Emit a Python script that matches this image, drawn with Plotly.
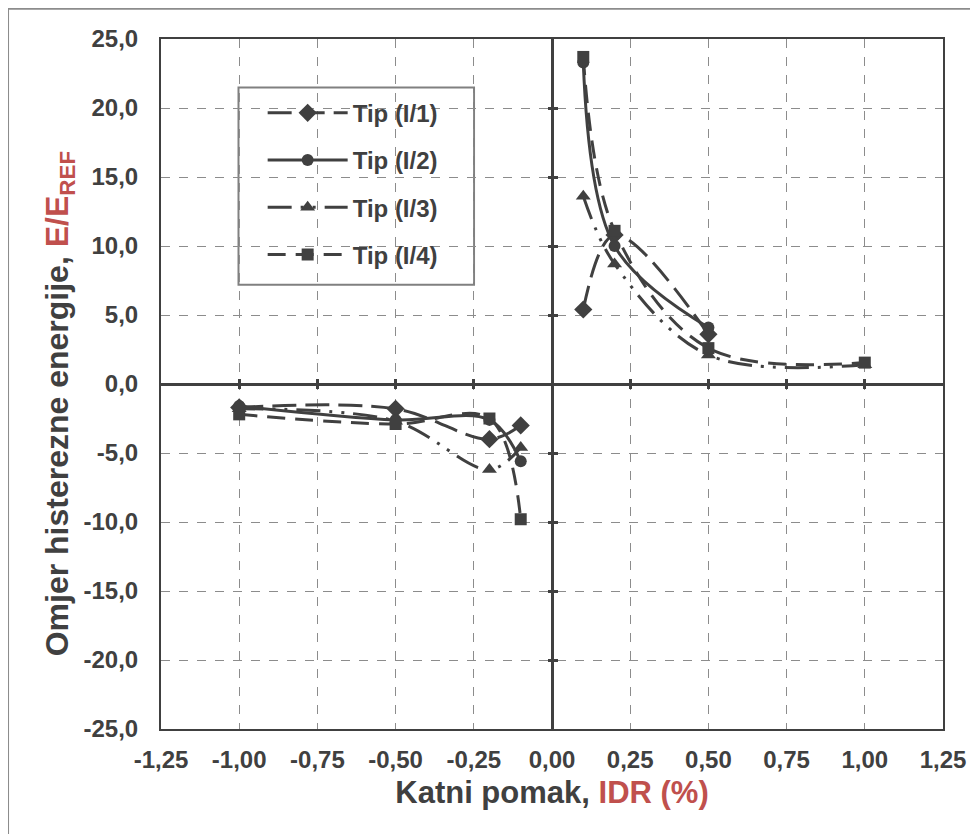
import plotly.graph_objects as go

# storey drift (IDR %) for the two branches
x_pos = [0.1, 0.2, 0.5, 1.0]
x_neg = [-1.0, -0.5, -0.2, -0.1]

# hysteretic energy ratio E/E_REF per type
tip1_pos = [5.4, 10.8, 3.6]
tip1_neg = [-1.7, -1.8, -4.0, -3.0]
tip2_pos = [23.3, 10.0, 4.1]
tip2_neg = [-1.6, -2.6, -2.6, -5.6]
tip3_pos = [13.6, 8.7, 2.1, 1.4]
tip3_neg = [-1.8, -2.7, -6.2, -4.6]
tip4_pos = [23.7, 11.1, 2.6, 1.55]
tip4_neg = [-2.2, -2.9, -2.5, -9.8]

names = ['Tip (I/1)', 'Tip (I/2)', 'Tip (I/3)', 'Tip (I/4)']

x_ticks = [-1.25, -1.0, -0.75, -0.5, -0.25, 0.0, 0.25, 0.5, 0.75, 1.0, 1.25]
x_tick_labels = ['-1,25', '-1,00', '-0,75', '-0,50', '-0,25', '0,00', '0,25', '0,50', '0,75', '1,00', '1,25']
y_ticks = [-25, -20, -15, -10, -5, 0, 5, 10, 15, 20, 25]
y_tick_labels = ['-25,0', '-20,0', '-15,0', '-10,0', '-5,0', '0,0', '5,0', '10,0', '15,0', '20,0', '25,0']

dark = '#404040'
red = '#c0504d'
font = 'Liberation Sans'

series = [
    (names[0], tip1_pos, tip1_neg, 'diamond', 14, '24px,9px'),
    (names[1], tip2_pos, tip2_neg, 'circle', 12, 'solid'),
    (names[2], tip3_pos, tip3_neg, 'triangle-up', 13, '24px,9px,3px,9px,3px,9px'),
    (names[3], tip4_pos, tip4_neg, 'square', 12, '18px,10px'),
]

fig = go.Figure()
for name, ypos, yneg, sym, size, dash in series:
    for xs, ys, show in [(x_pos[:len(ypos)], ypos, True), (x_neg, yneg, False)]:
        fig.add_trace(go.Scatter(
            x=xs, y=ys, name=name, legendgroup=name, showlegend=show,
            mode='lines+markers',
            line=dict(color=dark, width=3, dash=dash, shape='spline', smoothing=1),
            marker=dict(symbol=sym, size=size, color=dark),
        ))

tickfont = dict(family=font, size=24, color=dark, weight='bold')

# page body has an 8px margin, so the figure is 8px smaller than the window
fig.update_layout(
    width=970, height=826,
    margin=dict(l=153, r=32, t=31, b=105),
    plot_bgcolor='white', paper_bgcolor='white',
    showlegend=True,
    legend=dict(x=0.130, y=0.925, xanchor='left', yanchor='top',
                bgcolor='rgba(0,0,0,0)', borderwidth=0,
                font=dict(family=font, size=24, color=dark, weight='bold'),
                traceorder='grouped', tracegroupgap=13, itemwidth=80),
    xaxis=dict(range=[-1.25, 1.25], tickvals=x_ticks, ticktext=x_tick_labels,
               tickfont=tickfont, ticks='', ticklabelstandoff=8,
               showline=True, linecolor=dark, linewidth=2, mirror=True,
               showgrid=True, gridcolor='#8c8c8c', griddash='dash', gridwidth=1,
               zeroline=True, zerolinecolor=dark, zerolinewidth=3,
               title=dict(text="<b>Katni pomak, <span style='color:%s'>IDR (%%)</span></b>" % red,
                          font=dict(family=font, size=31, color=dark), standoff=10)),
    yaxis=dict(range=[-25, 25], tickvals=y_ticks, ticktext=y_tick_labels,
               tickfont=tickfont, ticks='', ticklabelstandoff=16,
               showline=True, linecolor=dark, linewidth=2, mirror=True,
               showgrid=True, gridcolor='#8c8c8c', griddash='dash', gridwidth=1,
               zeroline=True, zerolinecolor=dark, zerolinewidth=3),
    # tick marks crossing the zero lines
    xaxis2=dict(overlaying='x', matches='x', anchor='free', position=0.5 - 5 / 682,
                tickvals=x_ticks, showticklabels=False, ticks='inside', ticklen=10,
                tickwidth=3, tickcolor=dark, showgrid=False, zeroline=False, showline=False),
    yaxis2=dict(overlaying='y', matches='y', anchor='free', position=0.5 - 5 / 777,
                tickvals=y_ticks, showticklabels=False, ticks='inside', ticklen=10,
                tickwidth=3, tickcolor=dark, showgrid=False, zeroline=False, showline=False),
    annotations=[
        dict(text="<b>Omjer histerezne energije, <span style='color:%s'>E/E<sub>REF</sub></span></b>" % red,
             xref='paper', yref='paper', x=-0.130, y=0.471, xanchor='center', yanchor='middle',
             textangle=-90, showarrow=False, font=dict(family=font, size=32, color=dark)),
    ],
    shapes=[
        # legend frame
        dict(type='rect', xref='paper', yref='paper', x0=0.0991, x1=0.4003, y0=0.6437, y1=0.9296,
             line=dict(color='#808080', width=2), fillcolor='white', layer='between'),
        # outer chart frame
        dict(type='rect', xref='paper', yref='paper', x0=-0.1956, x1=1.0476, y0=-0.154, y1=1.044,
             line=dict(color='#8c8c8c', width=2)),
    ],
)
fig.add_trace(go.Scatter(x=[None], y=[None], xaxis='x2', yaxis='y2', showlegend=False, hoverinfo='skip'))

fig.write_html("out.html")
